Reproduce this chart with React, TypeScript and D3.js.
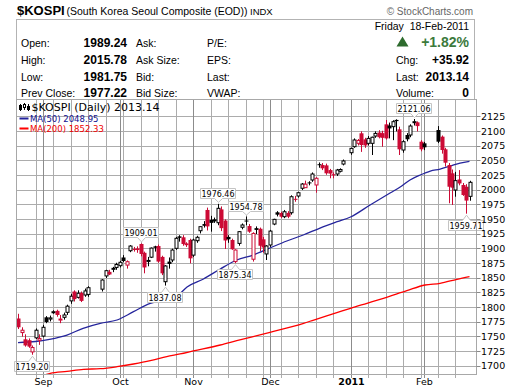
import React from 'react';
import * as d3 from 'd3';

// ---- data (trading days, holidays excluded) ----
const holidays = ['2010-09-21', '2010-09-22', '2010-09-23', '2010-12-31', '2011-02-02', '2011-02-03', '2011-02-04'];
const priorClose = 1790;

const open = [1781, 1757, 1745.5, 1744, 1724, 1748, 1744, 1751, 1783, 1780, 1791, 1794, 1779, 1783, 1791.5, 1811, 1827, 1817, 1824.5, 1821, 1822,
  1831, 1853.5, 1860.5, 1865.5, 1868, 1871, 1885, 1872, 1896.5, 1899.5, 1900.5, 1908, 1893, 1879, 1885.5, 1904, 1904.5, 1886, 1843.7, 1878,
  1880.7, 1900.6, 1921, 1919.4, 1909, 1914.8, 1889, 1913.6, 1930.6, 1942, 1966, 1949, 1950, 1944.3, 1967, 1948, 1920, 1914.8, 1878, 1909,
  1936.5, 1948, 1938.6, 1882, 1935, 1934, 1916, 1891, 1906.3, 1942, 1962, 1960.8, 1954.5, 1961, 1961.3, 1985, 1989.8, 2003, 2004, 2013,
  2017.1, 2008.6, 2044, 2042.6, 2042, 2034, 2027, 2027.3, 2032, 2044.3,
  2063.6, 2073.9, 2079.6, 2096.7, 2086.4, 2079.6, 2079.6, 2092, 2098, 2097, 2112, 2110, 2108, 2119.5, 2103.5, 2068.2, 2093.8, 2093.8, 2115, 2115.4,
  2082.4, 2079.6,
  2102.3, 2091, 2069.4, 2042.6, 2028.5, 2000, 2018, 2008.6, 2005.6, 1989.24];
const high = [1789, 1766, 1754, 1747, 1735, 1764, 1754, 1770, 1785, 1786, 1795, 1796, 1787, 1791, 1804.5, 1823, 1829, 1829, 1827, 1832, 1836,
  1848, 1864, 1864, 1869, 1876, 1879, 1889, 1880, 1906, 1903, 1904, 1909.01, 1895, 1886, 1902, 1905, 1907, 1888, 1872, 1885,
  1900, 1920, 1923, 1923, 1911, 1917, 1917, 1922, 1938, 1947, 1970, 1956, 1953, 1976.46, 1972, 1950, 1923, 1917, 1899, 1930,
  1943, 1954.78, 1942, 1928, 1938, 1936, 1920, 1906, 1932, 1951, 1964, 1963, 1966, 1964, 1991, 1990, 1997, 2012, 2016, 2015,
  2030, 2022, 2047, 2046, 2045, 2036, 2030, 2036, 2037, 2052,
  2072, 2088, 2087, 2100, 2089, 2092, 2091, 2100, 2102, 2101, 2119.4, 2115, 2119, 2120.5, 2108, 2085, 2097, 2112, 2121.06, 2117,
  2085, 2082,
  2109, 2093, 2072, 2046, 2035, 2031, 2034, 2012, 2010, 2015.78];
const low = [1763, 1750, 1733, 1731, 1719.2, 1746, 1736, 1749, 1773, 1776, 1789, 1784, 1773, 1779, 1787, 1806, 1810, 1815, 1809, 1818, 1818,
  1827, 1850, 1855, 1860, 1864, 1868, 1877, 1866, 1894, 1895, 1893, 1887, 1858, 1870, 1884, 1895, 1876, 1855, 1837.08, 1866,
  1877, 1898, 1912, 1905, 1903, 1875, 1886, 1910, 1926, 1936, 1931, 1929, 1944, 1940, 1930, 1899.5, 1910, 1898, 1875.34, 1905,
  1933, 1940, 1927, 1878, 1925, 1896, 1893, 1880.7, 1903, 1940, 1955, 1952, 1952, 1952, 1958, 1980, 1987, 2000, 2004, 2008,
  2014, 1995.4, 2038, 2034, 2026, 2020, 2020, 2024, 2030, 2042,
  2060, 2072, 2076, 2065, 2072, 2076, 2059.7, 2089, 2088, 2073.8, 2086, 2088, 2085, 2100, 2059.7, 2063.6, 2083, 2090, 2110, 2100,
  2066, 2068,
  2080, 2062, 2040, 1977.4, 1974.5, 1988.6, 2008, 1990, 1959.71, 1981.75];
const close = [1766, 1761, 1735, 1733, 1731.5, 1761, 1747, 1766, 1775, 1782, 1792.5, 1787, 1780, 1787, 1802, 1819, 1814, 1824, 1811, 1828, 1833.5,
  1846.6, 1862.5, 1856, 1866.5, 1873, 1876.8, 1879, 1877.8, 1904.5, 1899, 1897.7, 1891, 1868, 1880, 1901, 1901.5, 1878, 1858, 1870.5, 1874,
  1897.7, 1917.7, 1918.5, 1908, 1906, 1883.5, 1914.8, 1919.4, 1937.5, 1939, 1938, 1944, 1946.5, 1968.8, 1935, 1914, 1916, 1899, 1897.7, 1929,
  1940.4, 1947, 1929, 1926, 1932, 1905, 1902, 1904.6, 1930, 1950, 1958, 1954.5, 1963, 1954.5, 1988.6, 1984, 1995.4, 2010.2, 2010, 2011.5,
  2027.3, 2020, 2042.6, 2037, 2028.5, 2028, 2025, 2034.1, 2035, 2049.5,
  2071, 2085.3, 2084.5, 2076.7, 2076, 2088, 2090, 2096.5, 2090, 2089, 2088, 2105, 2116.5, 2117.5, 2069.4, 2082.4, 2086.5, 2109.1, 2116.5, 2109,
  2069.4, 2072.8,
  2082.4, 2068.2, 2046.6, 2005.6, 2004, 2016, 2011.2, 1991.5, 1982, 2013.14];

// moving averages (weekday index, value)
const ma50Day = [0, 5, 9, 14, 18.6, 23.5, 28.3, 33, 37.8, 42.5, 44.9, 48.3, 53, 57.8, 62.5, 67.2, 72, 76.8, 81.5, 86.3, 91.2, 95, 100.6, 106.3, 109.2, 112, 114.9, 117.8, 120.6, 123.5, 126.3, 129];
const ma50 = [1740, 1741.8, 1745.5, 1752.8, 1764.3, 1772.8, 1778.4, 1792.6, 1806.9, 1811.3, 1816, 1834.7, 1848.3, 1865.4, 1880.7, 1889.2, 1901.2, 1913.1, 1923.3, 1935.2, 1946, 1954, 1974.5, 1994.9, 2005.1, 2017.1, 2025.6, 2032.4, 2035.8, 2040.9, 2046, 2048.95];
const ma200Day = [6, 9.2, 14, 18.7, 23.5, 28.3, 33, 37.8, 42.5, 46.3, 50.1, 57.8, 62.5, 72, 81.6, 84.5, 91.1, 95, 99.7, 104.4, 111.1, 116.3, 120.6, 125.4, 129];
const ma200 = [1682, 1687.6, 1691, 1694.4, 1695.4, 1698.8, 1703.4, 1709, 1715.9, 1720.5, 1725.6, 1735.8, 1743.1, 1757.4, 1772.8, 1778.4, 1790.9, 1798.4, 1806.9, 1815.4, 1828.4, 1838.1, 1841, 1847.8, 1852.33];

const yTicks = [1700, 1725, 1750, 1775, 1800, 1825, 1850, 1875, 1900, 1925, 1950, 1975, 2000, 2025, 2050, 2075, 2100, 2125];
const monthLabels = ['Sep', 'Oct', 'Nov', 'Dec', '2011', 'Feb'];
const annotations = [
  { value: '1719.20', day: 4, kind: 'low' },
  { value: '1909.01', day: 35, kind: 'high' },
  { value: '1837.08', day: 42, kind: 'low' },
  { value: '1976.46', day: 57, kind: 'high' },
  { value: '1954.78', day: 65, kind: 'high' },
  { value: '1875.34', day: 62, kind: 'low' },
  { value: '2121.06', day: 113, kind: 'high' },
  { value: '1959.71', day: 128, kind: 'low' },
];

const W = 520, H = 391;
const PL = 16.5, PR = 476.5, PT = 99.5, PB = 374.5;
const RED = '#cc0a35';
const BLUE = '#25259c';

export default function App() {
  const fmt = d3.timeFormat('%Y-%m-%d');
  const weekdays = d3.timeDay.range(new Date(2010, 7, 23), new Date(2011, 1, 19)).filter(d => d.getDay() !== 0 && d.getDay() !== 6);
  const trading = weekdays.map((d, i) => ({ d, i })).filter(o => !holidays.includes(fmt(o.d)));
  const candles = trading.map((t, k) => ({ idx: t.i, date: t.d, o: open[k], h: high[k], l: low[k], c: close[k], pc: k === 0 ? priorClose : close[k - 1] }));

  const nDays = weekdays.length;
  const x = d3.scaleLinear().domain([0, nDays - 1]).range([18, 18 + 3.5 * (nDays - 1)]);
  const y = d3.scaleLinear().domain([1700, 2125]).range([366, 116.7]);
  const crisp = (v: number) => Math.round(v) + 0.5;
  const crispY = (v: number) => Math.floor(v) + 0.5;

  // grid: month starts (first trading day) and week starts (weekday list begins on a Monday)
  const monthLines: number[] = [];
  trading.forEach((t, k) => {
    if (k > 0 && t.d.getMonth() !== trading[k - 1].d.getMonth()) monthLines.push(t.i);
  });
  const weekLines = d3.range(5, nDays, 5).filter(i => monthLines.indexOf(i) < 0);

  const line50 = d3.line<number>().x((_, i) => x(ma50Day[i])).y(v => y(v)).curve(d3.curveMonotoneX);
  const line200 = d3.line<number>().x((_, i) => x(ma200Day[i])).y(v => y(v)).curve(d3.curveMonotoneX);

  const candleByIdx = new Map(candles.map(c => [c.idx, c]));

  return (
    <svg width={W} height={H} style={{ position: 'absolute', left: 0, top: 0, background: '#fff' }} fontFamily="Liberation Sans, Arial, sans-serif">
      <defs>
        <clipPath id="plot"><rect x={PL} y={PT} width={PR - PL} height={PB - PT} /></clipPath>
      </defs>
      {/* title */}
      <text x={17} y={15} fontSize={13} fontWeight="bold">$KOSPI</text>
      <text x={66.5} y={15} fontSize={10.5}>(South Korea Seoul Composite (EOD))</text>
      <text x={250} y={15} fontSize={9.5}>INDX</text>
      <text x={473} y={15} fontSize={10} fill="#666" textAnchor="end">© StockCharts.com</text>

      {/* header box */}
      <rect x={16.5} y={19.5} width={458} height={80} fill="#fff" stroke="#b3b3b3" />
      {[['Open:', '1989.24', 'Ask:', 'P/E:'], ['High:', '2015.78', 'Ask Size:', 'EPS:'], ['Low:', '1981.75', 'Bid:', 'Last:'], ['Prev Close:', '1977.22', 'Bid Size:', 'VWAP:']].map((r, k) => {
        const by = [47, 64, 80.5, 97][k];
        return (
          <g key={k}>
            <text x={21} y={by} fontSize={10.5}>{r[0]}</text>
            <text x={127} y={by} fontSize={12} fontWeight="bold" textAnchor="end">{r[1]}</text>
            <text x={136} y={by} fontSize={10.5}>{r[2]}</text>
            <text x={207} y={by} fontSize={10.5}>{r[3]}</text>
          </g>
        );
      })}
      <text x={469} y={30} fontSize={10.5} textAnchor="end" xmlSpace="preserve">Friday  18-Feb-2011</text>
      <path d="M396.5,46.5 L402.5,36.5 L408.5,46.5 Z" fill="#2e6b2e" />
      <text x={469} y={46.5} fontSize={14} fontWeight="bold" fill="#3c7a3c" textAnchor="end">+1.82%</text>
      {[['Chg:', '+35.92'], ['Last:', '2013.14'], ['Volume:', '0']].map((r, k) => {
        const by = [64, 80.5, 97][k];
        return (
          <g key={k}>
            <text x={396} y={by} fontSize={10.5}>{r[0]}</text>
            <text x={469} y={by} fontSize={12} fontWeight="bold" textAnchor="end">{r[1]}</text>
          </g>
        );
      })}

      {/* grid */}
      <g shapeRendering="crispEdges">
        {yTicks.map(t => (
          <rect key={'h' + t} x={PL} y={Math.floor(y(t))} width={PR - PL} height={1} fill="#acacac" />
        ))}
        {weekLines.map(i => (
          <rect key={'w' + i} x={Math.round(x(i))} y={PT} width={1} height={PB + 3 - PT} fill="#acacac" />
        ))}
        {monthLines.map(i => (
          <rect key={'m' + i} x={Math.round(x(i))} y={PT} width={1} height={PB + 3 - PT} fill="#8c8c8c" />
        ))}
      </g>

      {/* legend */}
      <g fontFamily="DejaVu Sans, sans-serif">
        <g stroke="#000" strokeWidth={1}>
          <line x1={20.5} x2={20.5} y1={104} y2={111} />
          <rect x={19.5} y={105.5} width={2} height={4} fill="#000" />
          <line x1={24.5} x2={24.5} y1={103} y2={110} />
          <rect x={23.5} y={104.5} width={2} height={3} fill="#fff" />
          <line x1={28.5} x2={28.5} y1={104} y2={111} />
          <rect x={27.5} y={106.5} width={2} height={3} fill="#000" />
        </g>
        <text x={31.5} y={111} fontSize={11}>$KOSPI (Daily) 2013.14</text>
        <rect x={19.5} y={117.5} width={9} height={2} fill={BLUE} />
        <text x={30} y={121.7} fontSize={8.5} fill="#101090">MA(50) 2048.95</text>
        <rect x={19.5} y={127.5} width={9} height={2} fill="#ff0000" />
        <text x={30} y={132} fontSize={8.5} fill="#ee0000">MA(200) 1852.33</text>
      </g>

      {/* moving averages */}
      <g clipPath="url(#plot)" fill="none">
        <path d={line200(ma200) || ''} stroke="#ff0000" strokeWidth={1.3} />
        <path d={line50(ma50) || ''} stroke={BLUE} strokeWidth={1.3} />
      </g>

      {/* candles */}
      <g clipPath="url(#plot)">
        {candles.map(c => {
          const cx = crisp(x(c.idx));
          const col = c.c < c.pc ? RED : '#000';
          const hollow = c.c >= c.o;
          const yt = y(Math.max(c.o, c.c));
          const yb = y(Math.min(c.o, c.c));
          const bh = Math.max(1, yb - yt);
          return (
            <g key={c.idx}>
              <line x1={cx} x2={cx} y1={y(c.h)} y2={y(c.l)} stroke={col} />
              {hollow
                ? <rect x={cx - 1.5} y={yt} width={3} height={Math.max(0.5, bh)} fill="#fff" stroke={col} strokeWidth={1} />
                : <rect x={cx - 2} y={yt} width={4} height={bh} fill={col} />}
            </g>
          );
        })}
      </g>

      {/* annotations */}
      <g fontFamily="DejaVu Sans, sans-serif">
        {annotations.map(a => {
          const c = candleByIdx.get(a.day)!;
          const px = crisp(x(a.day));
          const bw = 35, bh = 10;
          const bx = Math.round(px - 1 - bw / 2) + 0.5;
          if (a.kind === 'high') {
            const py = y(c.h);
            const b = Math.round(py - 6) + 0.5;
            const t = b - bh;
            const d = `M${bx},${t} H${bx + bw} V${b} H${px + 4} L${px},${py - 1.5} L${px - 4},${b} H${bx} Z`;
            return (
              <g key={a.value}>
                <path d={d} fill="#fff" stroke="#c4c4c4" />
                <text x={bx + bw / 2} y={b - 2} fontSize={8} textAnchor="middle">{a.value}</text>
              </g>
            );
          }
          const py = y(c.l);
          const t = Math.round(py + 6) + 0.5;
          const b = t + bh;
          const d = `M${bx},${t} H${px - 4} L${px},${py + 1.5} L${px + 4},${t} H${bx + bw} V${b} H${bx} Z`;
          return (
            <g key={a.value}>
              <path d={d} fill="#fff" stroke="#c4c4c4" />
              <text x={bx + bw / 2} y={b - 2} fontSize={8} textAnchor="middle">{a.value}</text>
            </g>
          );
        })}
      </g>

      {/* plot border */}
      <rect x={PL} y={PT} width={PR - PL} height={PB - PT} fill="none" stroke="#a8a8a8" />

      {/* y axis */}
      <g fontFamily="DejaVu Sans, sans-serif" fontSize={9.5}>
        {yTicks.map(t => (
          <g key={t}>
            <line x1={PR} x2={PR + 4} y1={crispY(y(t))} y2={crispY(y(t))} stroke="#888" />
            <text x={481} y={y(t) + 3.4}>{t}</text>
          </g>
        ))}
      </g>

      {/* x axis */}
      <g fontFamily="DejaVu Sans, sans-serif" fontSize={9.5}>
        {monthLines.map((i, k) => (
          <text key={i} x={crisp(x(i))} y={385} textAnchor="middle" fontWeight={monthLabels[k] === '2011' ? 'bold' : 'normal'}>{monthLabels[k]}</text>
        ))}
      </g>
    </svg>
  );
}
